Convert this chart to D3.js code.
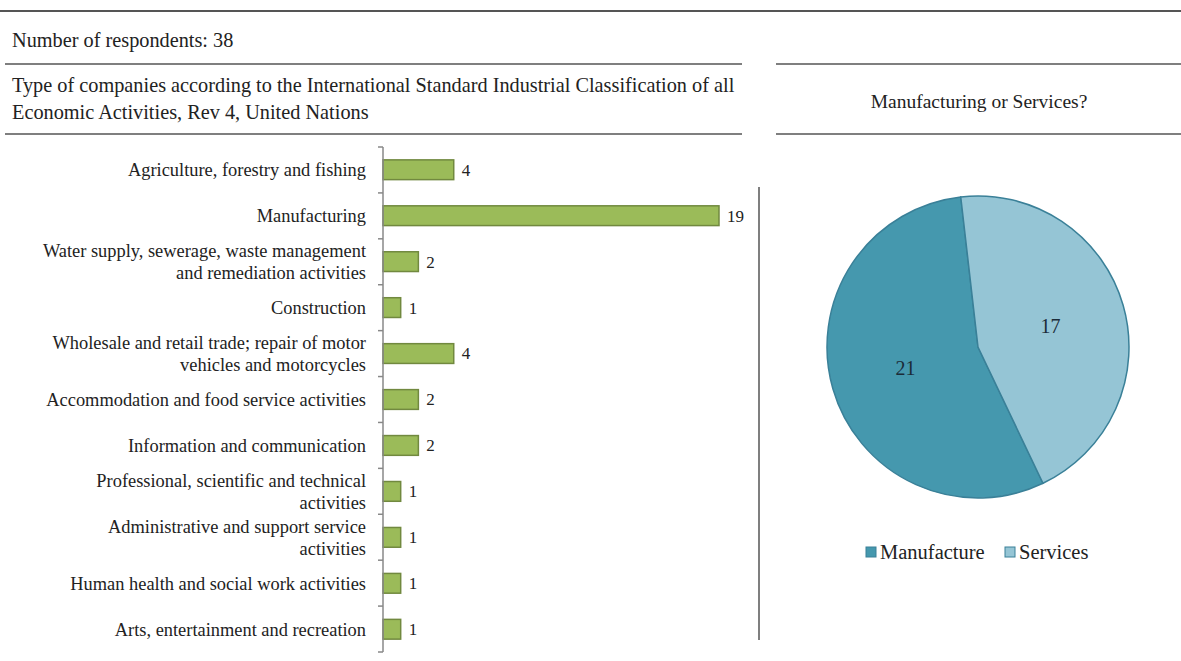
<!DOCTYPE html>
<html>
<head>
<meta charset="utf-8">
<script src="https://cdn.jsdelivr.net/npm/d3@7"></script>
<style>
  html, body { margin: 0; padding: 0; background: #fff; }
  svg { display: block; }
  text { font-family: "Liberation Serif", "Times New Roman", serif; fill: #222; }
</style>
</head>
<body>
<svg id="chart" width="1181" height="661"></svg>
<script>
// Survey breakdown by ISIC activity (Rev 4)
const categories = [
  ["Agriculture, forestry and fishing"],
  ["Manufacturing"],
  ["Water supply, sewerage, waste management", "and remediation activities"],
  ["Construction"],
  ["Wholesale and retail trade; repair of motor", "vehicles and motorcycles"],
  ["Accommodation and food service activities"],
  ["Information and communication"],
  ["Professional, scientific and technical", "activities"],
  ["Administrative and support service", "activities"],
  ["Human health and social work activities"],
  ["Arts, entertainment and recreation"]
];
const counts = [4, 19, 2, 1, 4, 2, 2, 1, 1, 1, 1];

// Manufacturing vs. services split
const sectors = ["Manufacture", "Services"];
const sectorCounts = [21, 17];
const sectorColors = ["#4598ae", "#95c5d5"];

const respondents = 38;

const svg = d3.select("#chart");

// ---- header rules and titles ----
const rule = (x1, x2, y, w) => svg.append("line")
  .attr("x1", x1).attr("x2", x2).attr("y1", y).attr("y2", y)
  .attr("stroke", "#555").attr("stroke-width", w);

rule(0, 1181, 11, 2);
rule(5, 742, 64, 1.5);
rule(776, 1181, 64, 1.5);
rule(5, 742, 134, 1.5);
rule(776, 1181, 134, 1.5);

svg.append("text").attr("x", 12).attr("y", 47)
  .attr("font-size", 20.3).text("Number of respondents: " + respondents);

svg.append("text").attr("x", 12).attr("y", 92).attr("font-size", 20.3)
  .text("Type of companies according to the International Standard Industrial Classification of all");
svg.append("text").attr("x", 12).attr("y", 119).attr("font-size", 20.3)
  .text("Economic Activities, Rev 4, United Nations");

svg.append("text").attr("x", 979).attr("y", 108).attr("font-size", 19.5)
  .attr("text-anchor", "middle").text("Manufacturing or Services?");

// divider between the two panels
svg.append("line").attr("x1", 759).attr("x2", 759).attr("y1", 187).attr("y2", 640)
  .attr("stroke", "#555").attr("stroke-width", 1.5);

// ---- horizontal bar chart ----
const idx = d3.range(categories.length);
const y = d3.scaleBand().domain(idx).range([147, 652]).paddingInner(0.57).paddingOuter(0.28);
const x = d3.scaleLinear().domain([0, 19]).range([383, 719]);

const bars = svg.append("g");
bars.selectAll("rect").data(idx).join("rect")
  .attr("x", x(0))
  .attr("y", i => y(i))
  .attr("width", i => x(counts[i]) - x(0))
  .attr("height", y.bandwidth())
  .attr("fill", "#9bbb59")
  .attr("stroke", "#71893f")
  .attr("stroke-width", 1.5);

bars.selectAll("text.val").data(idx).join("text")
  .attr("class", "val")
  .attr("x", i => x(counts[i]) + 8)
  .attr("y", i => y(i) + y.bandwidth() / 2)
  .attr("dy", "0.35em")
  .attr("font-size", 17)
  .text(i => counts[i]);

// category axis with ticks between bands
const axisG = svg.append("g");
axisG.append("line").attr("x1", 383).attr("x2", 383).attr("y1", 147).attr("y2", 652)
  .attr("stroke", "#888").attr("stroke-width", 1.5);
const bounds = d3.range(categories.length + 1).map(k => 147 + k * (505 / categories.length));
axisG.selectAll("line.tick").data(bounds).join("line")
  .attr("class", "tick")
  .attr("x1", 378).attr("x2", 383)
  .attr("y1", d => d).attr("y2", d => d)
  .attr("stroke", "#888").attr("stroke-width", 1.5);

const labels = svg.append("g");
idx.forEach(i => {
  const lines = categories[i];
  const cy = y(i) + y.bandwidth() / 2;
  const t = labels.append("text")
    .attr("text-anchor", "end")
    .attr("font-size", 18.4);
  lines.forEach((ln, j) => {
    t.append("tspan")
      .attr("x", 366)
      .attr("y", cy + (j - (lines.length - 1) / 2) * 22)
      .attr("dy", "0.35em")
      .text(ln);
  });
});

// ---- pie chart ----
const cx = 978, cy = 347, r = 151;
const startDeg = 154.5;
const pie = d3.pie().sort(null)
  .startAngle(startDeg * Math.PI / 180)
  .endAngle(startDeg * Math.PI / 180 + 2 * Math.PI);
const arcs = pie(sectorCounts);
const arc = d3.arc().innerRadius(0).outerRadius(r);

const pg = svg.append("g").attr("transform", `translate(${cx},${cy})`);
pg.selectAll("path").data(arcs).join("path")
  .attr("d", arc)
  .attr("fill", (d, i) => sectorColors[i])
  .attr("stroke", "#3a8098")
  .attr("stroke-width", 1.5);

pg.selectAll("text").data(arcs).join("text")
  .attr("transform", d => `translate(${arc.centroid(d)})`)
  .attr("text-anchor", "middle")
  .attr("dy", "0.35em")
  .attr("font-size", 20)
  .style("fill", "#1b2b38")
  .text(d => d.data);

// legend
const legendX = [866, 1005];
const lg = svg.append("g");
sectors.forEach((s, i) => {
  lg.append("rect").attr("x", legendX[i]).attr("y", 547).attr("width", 10).attr("height", 10)
    .attr("fill", sectorColors[i]).attr("stroke", "#3a8098").attr("stroke-width", 1);
  lg.append("text").attr("x", legendX[i] + 14).attr("y", 559)
    .attr("font-size", 20.5).text(s);
});
</script>
</body>
</html>
